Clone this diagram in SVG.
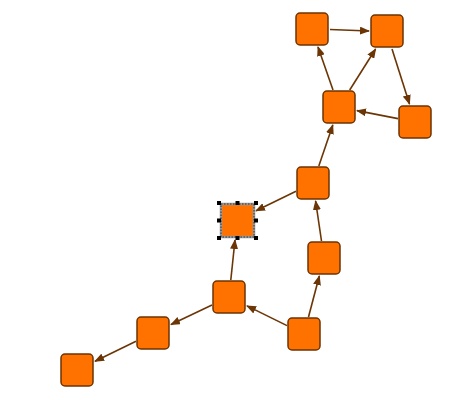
<svg xmlns="http://www.w3.org/2000/svg" width="460" height="400" viewBox="0 0 460 400">
<style>
.n{fill:#ff7200;stroke:#6e3300;stroke-width:1.5}
.e{stroke:#6b3505;stroke-width:1.6;fill:none;marker-end:url(#ah)}
.h{fill:#000}
</style>
<defs>
<marker id="ah" markerWidth="10" markerHeight="8" refX="9" refY="4" orient="auto" markerUnits="userSpaceOnUse">
<path d="M0,0 L10,4 L0,8 Z" fill="#6b3505"/>
</marker>
</defs>
<rect width="460" height="400" fill="#fff"/>
<g id="connectors">
<line class="e" x1="330" y1="29.5" x2="369" y2="31"/>
<line class="e" x1="392" y1="49" x2="409.5" y2="104"/>
<line class="e" x1="398" y1="118.6" x2="357" y2="110.6"/>
<line class="e" x1="333" y1="90" x2="318" y2="47"/>
<line class="e" x1="349.7" y1="90" x2="375.6" y2="49"/>
<line class="e" x1="318.8" y1="166" x2="332.8" y2="125"/>
<line class="e" x1="296" y1="191.3" x2="256" y2="210.8"/>
<line class="e" x1="321.5" y1="241" x2="315.6" y2="201"/>
<line class="e" x1="308.5" y1="317" x2="319.3" y2="276"/>
<line class="e" x1="287" y1="325.6" x2="247" y2="305.9"/>
<line class="e" x1="230.8" y1="280" x2="235" y2="240"/>
<line class="e" x1="212" y1="305" x2="171" y2="324.5"/>
<line class="e" x1="136" y1="341.3" x2="95" y2="361.2"/>
</g>
<g id="nA"><rect class="n" x="296" y="13" width="32" height="32" rx="4"/></g>
<g id="nB"><rect class="n" x="371" y="15" width="32" height="32" rx="4"/></g>
<g id="nC"><rect class="n" x="323" y="91" width="32" height="32" rx="4"/></g>
<g id="nD"><rect class="n" x="399" y="106" width="32" height="32" rx="4"/></g>
<g id="nE"><rect class="n" x="297" y="167" width="32" height="32" rx="4"/></g>
<g id="nF"><rect class="n" x="308" y="242" width="32" height="32" rx="4"/></g>
<g id="nG">
<rect x="221" y="204" width="33" height="33" fill="#ff7200" stroke="#9a9a9a" stroke-width="2.5"/>
<rect x="221" y="204" width="33" height="33" fill="none" stroke="#333" stroke-width="1" stroke-dasharray="1.5 1.5"/>
<rect class="h" x="217" y="201" width="4" height="4"/>
<rect class="h" x="235.5" y="201" width="4" height="4"/>
<rect class="h" x="254" y="201" width="4" height="4"/>
<rect class="h" x="217" y="218.5" width="4" height="4"/>
<rect class="h" x="254" y="218.5" width="4" height="4"/>
<rect class="h" x="217" y="236" width="4" height="4"/>
<rect class="h" x="235.5" y="236" width="4" height="4"/>
<rect class="h" x="254" y="236" width="4" height="4"/>
</g>
<g id="nH"><rect class="n" x="213" y="281" width="32" height="32" rx="4"/></g>
<g id="nI"><rect class="n" x="137" y="317" width="32" height="32" rx="4"/></g>
<g id="nJ"><rect class="n" x="61" y="354" width="32" height="32" rx="4"/></g>
<g id="nK"><rect class="n" x="288" y="318" width="32" height="32" rx="4"/></g>
</svg>
